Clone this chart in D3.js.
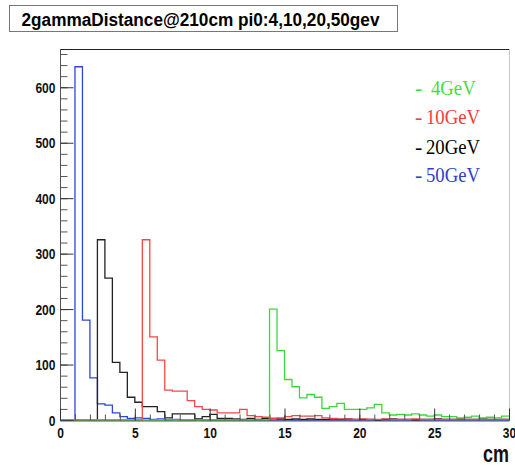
<!DOCTYPE html>
<html>
<head>
<meta charset="utf-8">
<script src="https://cdn.jsdelivr.net/npm/d3@7"></script>
<style>
  html, body { margin: 0; padding: 0; background: #fff; }
  svg { display: block; }
</style>
</head>
<body>
<svg id="chart" width="515" height="466"></svg>
<script>
// ---- data (bin width 0.5 cm, 0..30 cm, 60 bins) ----
const binEdgesStart = 0, binWidth = 0.5, nBins = 60;
const seriesNames = ["4GeV", "10GeV", "20GeV", "50GeV"];
const seriesColors = ["#3ed63e", "#f04848", "#222222", "#2f45dd"];
const legendColors = ["#44dd44", "#f03c3c", "#000000", "#3040c8"];

const h50GeV = [0,0,637,180,76,29,27,13,6,3, 4,3,1,2,0,1,0,0,1,0, 0,0,0,0,0,0,0,0,0,0, 0,0,0,0,0,0,0,0,0,0, 0,0,0,0,0,0,0,0,0,0, 0,0,0,0,0,0,0,0,0,0];
const h20GeV = [0,0,0,0,0,325,256,104,86,41, 32,24,24,15,4,11,11,11,2,6, 10,3,3,2,1,3,1,3,3,2, 1,2,1,2,1,1,2,1,2,1, 1,1,0,1,2,1,1,0,1,1, 2,1,1,2,1,1,2,1,1,1];
const h10GeV = [0,0,0,0,0,0,0,0,0,0, 0,325,150,108,54,52,52,35,24,19, 18,13,13,13,19,8,6,5,3,4, 6,8,7,7,8,4,3,2,2,1, 2,1,1,2,1,1,1,2,1,1, 1,1,1,2,1,1,1,1,1,1];
const h4GeV  = [0,0,0,0,0,0,0,0,0,0, 0,0,0,0,0,0,0,0,0,0, 0,0,0,0,0,0,0,0,200,125, 73,60,40,46,41,21,24,30,19,19, 19,22,28,13,9,10,9,11,9,7, 9,6,6,4,5,7,4,5,4,7];
const seriesData = [h4GeV, h10GeV, h20GeV, h50GeV];

const xMajorTicks = [0,5,10,15,20,25,30];
const yMajorTicks = [0,100,200,300,400,500,600];
const titleText = "2gammaDistance@210cm pi0:4,10,20,50gev";
const xAxisTitle = "cm";

// ---- layout ----
const svg = d3.select("#chart");
const L = 60, R = 509, T = 49, B = 420;
const x = d3.scaleLinear().domain([0, 30]).range([L, R]);
const y = d3.scaleLinear().domain([0, 669]).range([B, T]);

// frame
svg.append("line").attr("x1", L).attr("x2", R).attr("y1", T + 0.5).attr("y2", T + 0.5)
  .attr("stroke", "#222").attr("stroke-width", 1);
svg.append("line").attr("x1", R + 0.5).attr("x2", R + 0.5).attr("y1", T).attr("y2", B)
  .attr("stroke", "#c8c8c8").attr("stroke-width", 1);

// histograms
const order = [3, 2, 1, 0]; // draw 50,20,10 then 4 GeV on top
const line = d3.line().x(d => x(d[0])).y(d => y(d[1])).curve(d3.curveStepAfter);
order.forEach(si => {
  const vals = seriesData[si];
  const pts = vals.map((v, i) => [binEdgesStart + i * binWidth, v]);
  pts.push([binEdgesStart + nBins * binWidth, vals[vals.length - 1]]);
  svg.append("path").attr("d", line(pts)).attr("fill", "none")
    .attr("stroke", seriesColors[si]).attr("stroke-width", 1.3);
});

// y axis minor
const yMinor = d3.range(0, 669, 20);
svg.append("g").attr("transform", `translate(${L + 0.5},0)`)
  .call(d3.axisLeft(y).tickValues(yMinor).tickSize(-7).tickFormat(""))
  .call(g => g.select(".domain").remove())
  .call(g => g.selectAll("line").attr("stroke", "#555"));
// y axis major
const gy = svg.append("g").attr("transform", `translate(${L + 0.5},0)`)
  .call(d3.axisLeft(y).tickValues(yMajorTicks).tickSize(-13).tickSizeOuter(0).tickPadding(0).tickFormat(d3.format("d")));
gy.select(".domain").attr("stroke", "#555").attr("d", `M0,${B}V${T}`);
gy.selectAll("line").attr("stroke", "#333");
gy.selectAll("text")
  .attr("x", null).attr("dy", null)
  .attr("font-family", "Liberation Sans, Arial, sans-serif")
  .attr("font-weight", "bold").attr("font-size", 14).attr("fill", "#111")
  .attr("text-anchor", "end")
  .attr("transform", "translate(-5,5) scale(0.86,1)");

// x axis minor
svg.append("g").attr("transform", `translate(0,${B + 0.5})`)
  .call(d3.axisBottom(x).tickValues(d3.range(0, 31, 1)).tickSize(-6).tickFormat(""))
  .call(g => g.select(".domain").remove())
  .call(g => g.selectAll("line").attr("stroke", "#555"));
// x axis major
const gx = svg.append("g").attr("transform", `translate(0,${B + 0.5})`)
  .call(d3.axisBottom(x).tickValues(xMajorTicks).tickSize(-12).tickSizeOuter(0).tickPadding(0).tickFormat(d3.format("d")));
gx.select(".domain").attr("stroke", "#555");
gx.selectAll("line").attr("stroke", "#333");
gx.selectAll("text")
  .attr("y", null).attr("dy", null)
  .attr("font-family", "Liberation Sans, Arial, sans-serif")
  .attr("font-weight", "bold").attr("font-size", 14).attr("fill", "#111")
  .attr("text-anchor", "middle")
  .attr("transform", "translate(0,17) scale(0.86,1)");

// axis title
svg.append("text").attr("transform", `translate(${R},462) scale(0.78,1)`)
  .attr("text-anchor", "end")
  .attr("font-family", "Liberation Sans, Arial, sans-serif")
  .attr("font-weight", "bold").attr("font-size", 23).attr("fill", "#111")
  .text(xAxisTitle);

// title box
svg.append("rect").attr("x", 9.5).attr("y", 5.5).attr("width", 388).attr("height", 26)
  .attr("fill", "#fff").attr("stroke", "#777").attr("stroke-width", 1);
svg.append("text").attr("x", 21.5).attr("y", 26)
  .attr("font-family", "Liberation Sans, Arial, sans-serif")
  .attr("font-weight", "bold").attr("font-size", 18).attr("fill", "#000")
  .attr("textLength", 358).attr("lengthAdjust", "spacingAndGlyphs")
  .text(titleText);

// legend
const legendBase = [95, 124, 154, 182];
seriesNames.forEach((name, i) => {
  svg.append("text").attr("x", 415).attr("y", legendBase[i])
    .attr("font-family", "Liberation Serif, Times New Roman, serif")
    .attr("font-size", 22).attr("fill", legendColors[i]).text("-");
  const startX = name.length < 5 ? 431 : 426;
  svg.append("text").attr("transform", `translate(${startX},${legendBase[i]}) scale(0.85,1)`)
    .attr("text-anchor", "start")
    .attr("font-family", "Liberation Serif, Times New Roman, serif")
    .attr("font-size", 22).attr("fill", legendColors[i]).text(name);
});
</script>
</body>
</html>
